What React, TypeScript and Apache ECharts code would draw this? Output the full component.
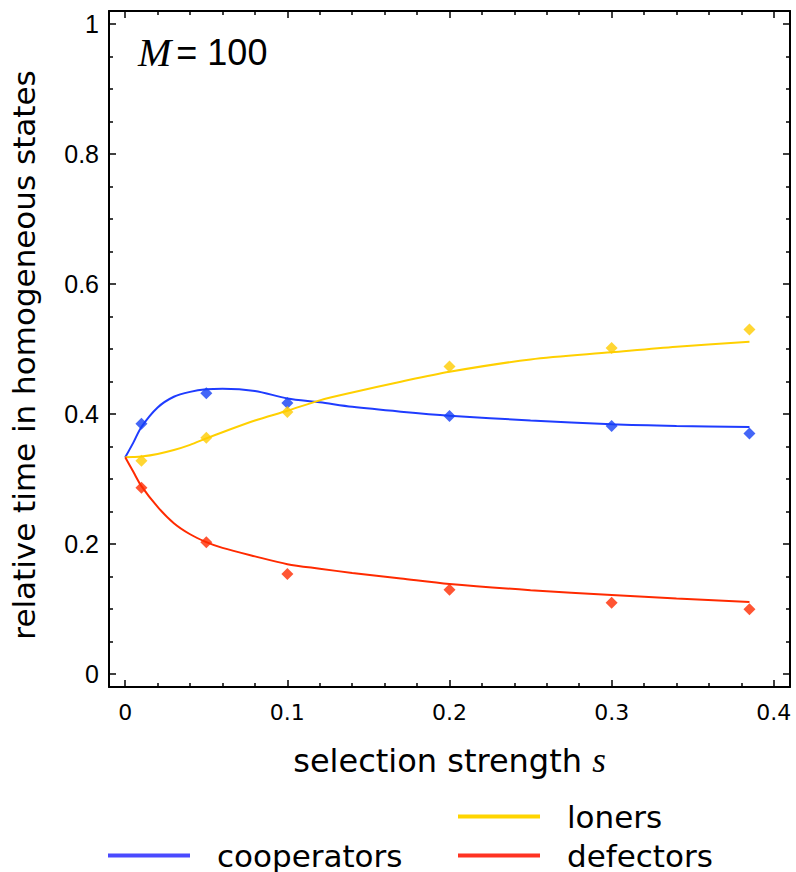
import React, { useEffect, useRef } from "react";
import * as echarts from "echarts";

// Simulation points (diamonds)
const simS = [0.01, 0.05, 0.1, 0.2, 0.3, 0.385];
const coopSim = [0.385, 0.432, 0.417, 0.397, 0.3815, 0.37];
const lonerSim = [0.328, 0.3636, 0.403, 0.473, 0.5015, 0.53];
const defectSim = [0.2867, 0.2026, 0.154, 0.1297, 0.1097, 0.0995];

// Analytic curves
const curveS = [0, 0.005, 0.01, 0.02, 0.03, 0.04, 0.05, 0.06, 0.08, 0.1, 0.12, 0.14, 0.17, 0.2, 0.25, 0.3, 0.34, 0.385];
const coopCurve = [0.3333, 0.356, 0.38, 0.41, 0.4265, 0.434, 0.438, 0.439, 0.4355, 0.424, 0.418, 0.411, 0.4036, 0.3974, 0.39, 0.3841, 0.3815, 0.38];
const lonerCurve = [0.3333, 0.3337, 0.3345, 0.3385, 0.3445, 0.3525, 0.3625, 0.372, 0.39, 0.405, 0.421, 0.433, 0.4497, 0.465, 0.484, 0.495, 0.5036, 0.511];
const defectCurve = [0.3333, 0.311, 0.289, 0.257, 0.232, 0.215, 0.203, 0.194, 0.181, 0.169, 0.162, 0.1555, 0.147, 0.1385, 0.129, 0.1215, 0.116, 0.1108];

// Ticks
const xMajorTicks = [0, 0.1, 0.2, 0.3, 0.4];
const xMinorTicks = [0.02, 0.04, 0.06, 0.08, 0.12, 0.14, 0.16, 0.18, 0.22, 0.24, 0.26, 0.28, 0.32, 0.34, 0.36, 0.38];
const yMajorTicks = [0, 0.2, 0.4, 0.6, 0.8, 1];
const yMinorTicks = [0.05, 0.1, 0.15, 0.25, 0.3, 0.35, 0.45, 0.5, 0.55, 0.65, 0.7, 0.75, 0.85, 0.9, 0.95];

const seriesNames = ["cooperators", "loners", "defectors"];
const lineColors = ["#1f3cff", "#ffd000", "#ff2a00"];
const markerColors = ["#1540f5", "#ffcc00", "#ff2a00"];
const legendColors = ["#4a4aff", "#ffd500", "#ff3322"];

const X_MIN = -0.01;
const X_MAX = 0.41;
const Y_MIN = -0.02;
const Y_MAX = 1.02;

const SANS = "DejaVu Sans";

const fmt = (v: number) => (v === 0 ? "0" : v === 1 ? "1" : String(v));

export default function App() {
  const ref = useRef<HTMLDivElement>(null);
  useEffect(() => {
    if (!ref.current) return;
    const chart = echarts.init(ref.current, null, { renderer: "svg" });

    const axisLine = { show: true, onZero: false, lineStyle: { color: "#000", width: 2 } };
    const noLine = { show: false, onZero: false };
    const tickStyle = { color: "#000", width: 1.5 };

    const mkX = (pos: string, ticks: number[], len: number, labels: boolean, line: boolean, extra: any = {}) => ({
      type: "value",
      position: pos,
      min: X_MIN,
      max: X_MAX,
      axisLine: line ? axisLine : noLine,
      axisTick: { show: true, inside: true, length: len, customValues: ticks, lineStyle: tickStyle },
      axisLabel: labels
        ? {
            show: true,
            customValues: ticks,
            formatter: fmt,
            margin: 14,
            color: "#000",
            fontFamily: SANS,
            fontSize: 22,
          }
        : { show: false },
      splitLine: { show: false },
      ...extra,
    });
    const mkY = (pos: string, ticks: number[], len: number, labels: boolean, line: boolean, extra: any = {}) => ({
      type: "value",
      position: pos,
      min: Y_MIN,
      max: Y_MAX,
      axisLine: line ? axisLine : noLine,
      axisTick: { show: true, inside: true, length: len, customValues: ticks, lineStyle: tickStyle },
      axisLabel: labels
        ? {
            show: true,
            customValues: ticks,
            formatter: fmt,
            margin: 10,
            color: "#000",
            fontFamily: "Liberation Sans",
            fontSize: 25,
          }
        : { show: false },
      splitLine: { show: false },
      ...extra,
    });

    const lineSeries = [coopCurve, lonerCurve, defectCurve].map((arr, i) => ({
      name: seriesNames[i],
      type: "line",
      xAxisIndex: 0,
      yAxisIndex: 0,
      data: curveS.map((s, j) => [s, arr[j]]),
      smooth: 0.3,
      showSymbol: false,
      symbol: "none",
      lineStyle: { color: lineColors[i], width: 2 },
      itemStyle: { color: legendColors[i] },
      z: 3,
    }));
    const scatterSeries = [coopSim, lonerSim, defectSim].map((arr, i) => ({
      name: seriesNames[i],
      type: "scatter",
      xAxisIndex: 0,
      yAxisIndex: 0,
      data: simS.map((s, j) => [s, arr[j]]),
      symbol: "diamond",
      symbolSize: 12,
      itemStyle: { color: markerColors[i] },
      z: 4,
    }));

    const legendText = {
      color: "#000",
      fontFamily: SANS,
      fontSize: 31,
      lineHeight: 26,
      padding: [0, 0, 0, 22],
    };
    const mkLegend = (i: number, left: number, top: number) => ({
      data: [{ name: seriesNames[i], itemStyle: { color: legendColors[i] } }],
      left,
      top,
      padding: 0,
      icon: "rect",
      itemWidth: 82,
      itemHeight: 4,
      textStyle: legendText,
      selectedMode: false,
    });

    chart.setOption({
      animation: false,
      backgroundColor: "#fff",
      grid: { left: 108, right: 6, top: 11, bottom: 185, containLabel: false },
      title: {
        text: "{m|M} {e|= 100}",
        left: 133,
        top: 27,
        textStyle: {
          fontWeight: "normal",
          rich: {
            m: { fontFamily: "Liberation Serif", fontStyle: "italic", fontWeight: "normal", fontSize: 40, color: "#000" },
            e: { fontFamily: "Liberation Sans", fontWeight: "normal", fontSize: 36, color: "#000" },
          },
        },
      },
      legend: [mkLegend(0, 108, 840), mkLegend(1, 458, 801), mkLegend(2, 458, 840)],
      xAxis: [
        mkX("bottom", xMajorTicks, 7, true, true, {
          name: "{a|selection strength }{b|s}",
          nameLocation: "middle",
          nameGap: 56,
          nameTextStyle: {
            rich: {
              a: { fontFamily: SANS, fontSize: 32, color: "#000" },
              b: { fontFamily: "Liberation Serif", fontStyle: "italic", fontSize: 35, color: "#000" },
            },
          },
        }),
        mkX("bottom", xMinorTicks, 4, false, false),
        mkX("top", xMajorTicks, 7, false, true),
        mkX("top", xMinorTicks, 4, false, false),
      ],
      yAxis: [
        mkY("left", yMajorTicks, 7, true, true, {
          name: "relative time in homogeneous states",
          nameLocation: "middle",
          nameGap: 70,
          nameTextStyle: { fontFamily: SANS, fontSize: 31, color: "#000", padding: [0, 12, 0, 0] },
        }),
        mkY("left", yMinorTicks, 4, false, false),
        mkY("right", yMajorTicks, 7, false, true),
        mkY("right", yMinorTicks, 4, false, false),
      ],
      series: [...lineSeries, ...scatterSeries],
    });
    return () => chart.dispose();
  }, []);
  return (
    <div
      ref={ref}
      style={{ position: "fixed", left: 0, top: 0, width: 796, height: 872, background: "#fff" }}
    />
  );
}
